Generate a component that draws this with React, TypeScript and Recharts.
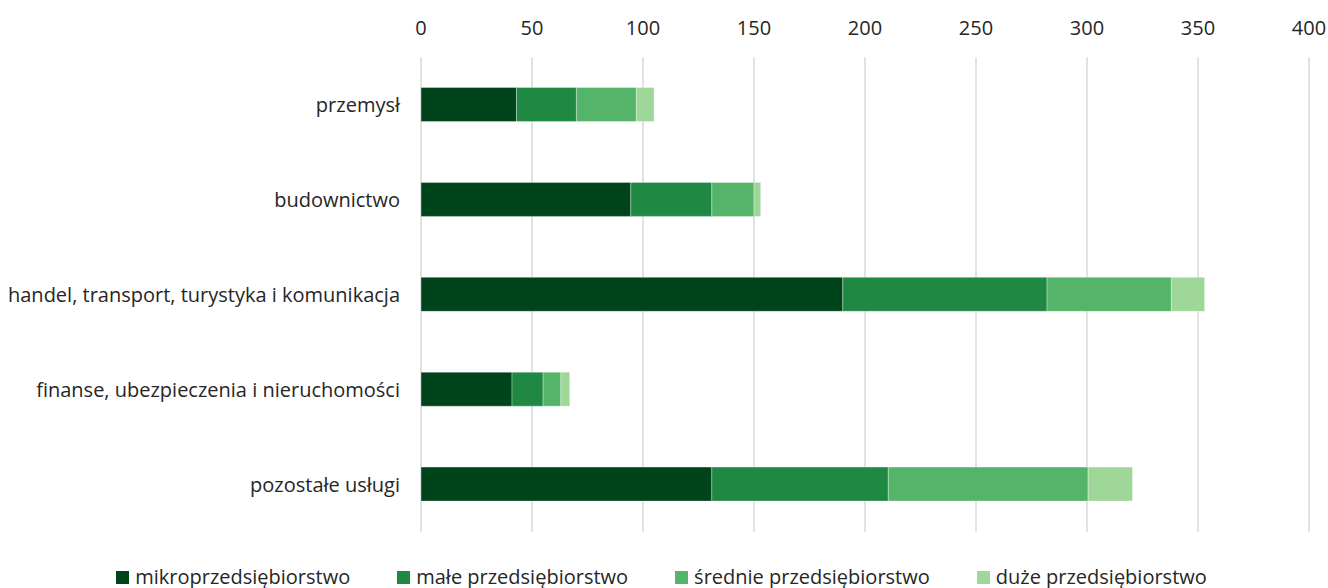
import React from "react";
import { BarChart, Bar, XAxis, YAxis, CartesianGrid, Legend } from "recharts";

const categories = [
  "przemysł",
  "budownictwo",
  "handel, transport, turystyka i komunikacja",
  "finanse, ubezpieczenia i nieruchomości",
  "pozostałe usługi",
];
const mikro = [43, 94.5, 190, 41, 131];
const male = [27, 36.5, 92, 14, 79.5];
const srednie = [27, 19, 56, 8, 90];
const duze = [8, 3, 15, 4, 20];
const xTicks = [0, 50, 100, 150, 200, 250, 300, 350, 400];

const seriesNames = [
  "mikroprzedsiębiorstwo",
  "małe przedsiębiorstwo",
  "średnie przedsiębiorstwo",
  "duże przedsiębiorstwo",
];
const seriesKeys = ["mikro", "male", "srednie", "duze"];
const colors = ["#00441b", "#1f8843", "#54b469", "#9fd799"];

const data = categories.map((name, i) => ({
  name,
  mikro: mikro[i],
  male: male[i],
  srednie: srednie[i],
  duze: duze[i],
}));

const FONT = "'Open Sans', 'Noto Sans', sans-serif";

const LegendContent = () => (
  <div
    style={{
      height: 56,
      display: "flex",
      alignItems: "flex-end",
      justifyContent: "center",
      fontFamily: FONT,
      fontSize: 20,
      color: "#262626",
      paddingLeft: 14,
      boxSizing: "border-box",
    }}
  >
    {seriesNames.map((n, i) => (
      <div
        key={n}
        style={{
          display: "flex",
          alignItems: "center",
          height: 22,
          marginLeft: i === 0 ? 0 : 47,
        }}
      >
        <span
          style={{
            display: "inline-block",
            width: 13,
            height: 13,
            background: colors[i],
            marginRight: 6,
          }}
        />
        <span style={{ lineHeight: "22px" }}>{n}</span>
      </div>
    ))}
  </div>
);

export default function App() {
  return (
    <div style={{ position: "absolute", left: 0, top: 0, width: 1328, height: 588, background: "#fff" }}>
      <BarChart
        width={1328}
        height={588}
        data={data}
        layout="vertical"
        margin={{ top: 0, right: 19, bottom: 0, left: 0 }}
        barSize={34}
      >
        <CartesianGrid horizontal={false} vertical={true} stroke="#d9d9d9" strokeWidth={1.5} />
        <XAxis
          type="number"
          orientation="top"
          domain={[0, 400]}
          ticks={xTicks}
          interval={0}
          height={57.5}
          axisLine={false}
          tickLine={false}
          tickSize={0}
          tickMargin={23}
          tick={{ fill: "#262626", fontSize: 20, fontFamily: FONT }}
        />
        <YAxis
          type="category"
          dataKey="name"
          width={421}
          axisLine={false}
          tickLine={false}
          tickSize={0}
          tickMargin={21}
          interval={0}
          tick={{ fill: "#262626", fontSize: 20, fontFamily: FONT }}
        />
        <Legend verticalAlign="bottom" content={<LegendContent />} />
        {seriesKeys.map((k, i) => (
          <Bar
            key={k}
            dataKey={k}
            name={seriesNames[i]}
            stackId="a"
            fill={colors[i]}
            stroke="rgba(255,255,255,0.45)"
            strokeWidth={0.75}
            isAnimationActive={false}
          />
        ))}
      </BarChart>
    </div>
  );
}
